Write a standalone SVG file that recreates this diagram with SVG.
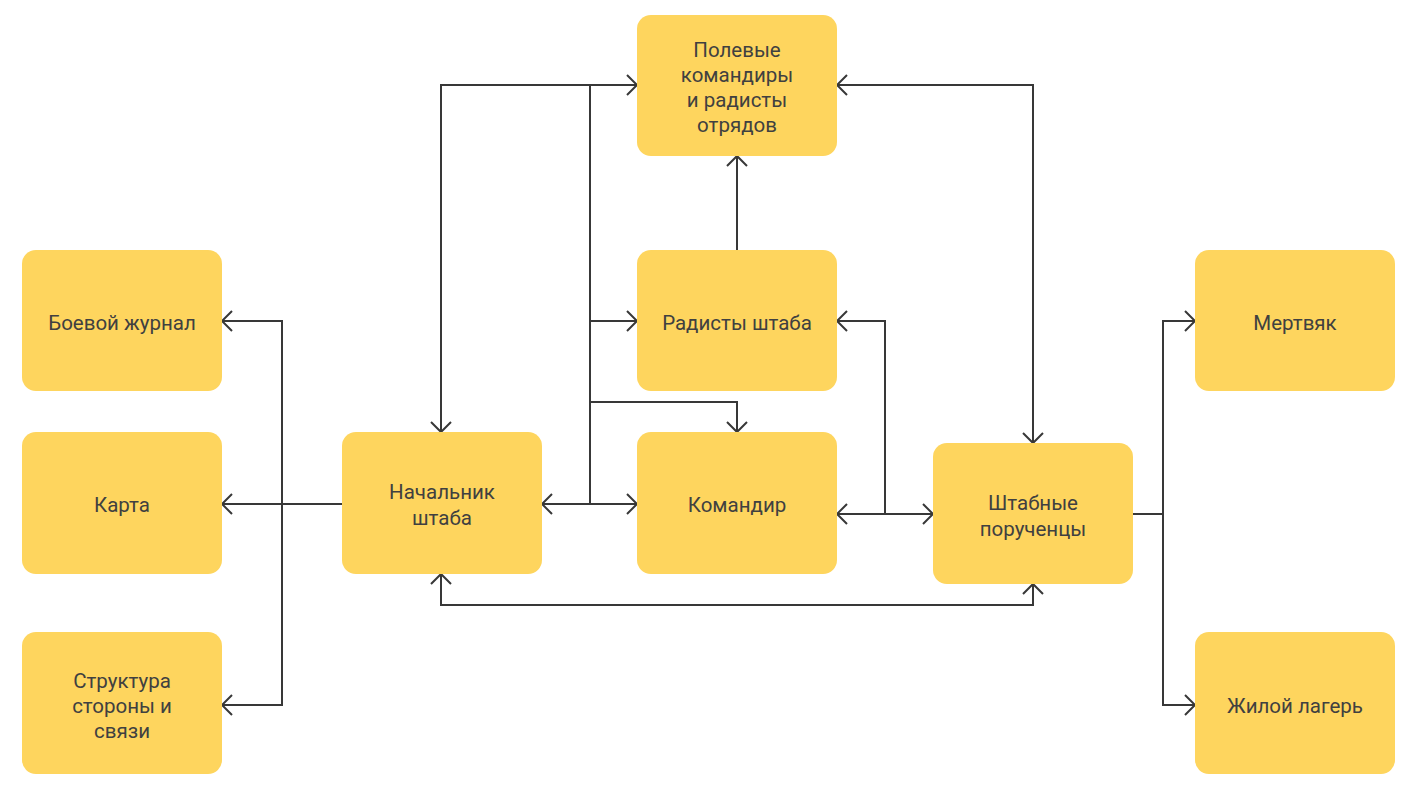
<svg xmlns="http://www.w3.org/2000/svg" width="1420" height="791" viewBox="0 0 1420 791">
<style>
.box{fill:#FED55E;}
.t{font-family:Roboto,"Liberation Sans",sans-serif;font-size:20.5px;fill:#404040;text-anchor:middle;}
.c{fill:none;stroke:#383838;stroke-width:2;}
</style>
<defs>
<marker id="ar" viewBox="-12 -12 14 24" refX="0" refY="0" markerWidth="14" markerHeight="24" markerUnits="userSpaceOnUse" orient="auto-start-reverse">
<path d="M-10,-10 L0,0 L-10,10" fill="none" stroke="#383838" stroke-width="2"/>
</marker>
</defs>
<rect width="1420" height="791" fill="#ffffff"/>
<g id="connectors">
<path class="c" d="M342,504 L222,504" marker-end="url(#ar)"/>
<path class="c" d="M222,321 L282,321 L282,705 L222,705" marker-start="url(#ar)" marker-end="url(#ar)"/>
<path class="c" d="M441,432 L441,85 L637,85" marker-start="url(#ar)" marker-end="url(#ar)"/>
<path class="c" d="M590,85 L590,504"/>
<path class="c" d="M542,504 L637,504" marker-start="url(#ar)" marker-end="url(#ar)"/>
<path class="c" d="M590,321 L637,321" marker-end="url(#ar)"/>
<path class="c" d="M590,402 L737,402 L737,432" marker-end="url(#ar)"/>
<path class="c" d="M737,250 L737,156" marker-end="url(#ar)"/>
<path class="c" d="M837,85 L1033,85 L1033,443" marker-start="url(#ar)" marker-end="url(#ar)"/>
<path class="c" d="M837,321 L885,321 L885,514 L933,514" marker-start="url(#ar)" marker-end="url(#ar)"/>
<path class="c" d="M837,514 L933,514" marker-start="url(#ar)"/>
<path class="c" d="M441,574 L441,605 L1033,605 L1033,584" marker-start="url(#ar)" marker-end="url(#ar)"/>
<path class="c" d="M1133,514 L1163,514"/>
<path class="c" d="M1195,321 L1163,321 L1163,705 L1195,705" marker-start="url(#ar)" marker-end="url(#ar)"/>
</g>
<g id="n-zhurnal"><rect class="box" x="22" y="250" width="200" height="141" rx="14"/><text class="t" x="122" y="330">Боевой журнал</text></g>
<g id="n-karta"><rect class="box" x="22" y="432" width="200" height="142" rx="14"/><text class="t" x="122" y="512">Карта</text></g>
<g id="n-struktura"><rect class="box" x="22" y="632" width="200" height="142" rx="14"/><text class="t" x="122" y="688">Структура</text><text class="t" x="122" y="713">стороны и</text><text class="t" x="122" y="738">связи</text></g>
<g id="n-nachalnik"><rect class="box" x="342" y="432" width="200" height="142" rx="14"/><text class="t" x="442" y="499">Начальник</text><text class="t" x="442" y="525">штаба</text></g>
<g id="n-polevye"><rect class="box" x="637" y="15" width="200" height="141" rx="14"/><text class="t" x="737" y="57">Полевые</text><text class="t" x="737" y="82">командиры</text><text class="t" x="737" y="107">и радисты</text><text class="t" x="737" y="132">отрядов</text></g>
<g id="n-radisty"><rect class="box" x="637" y="250" width="200" height="141" rx="14"/><text class="t" x="737" y="330">Радисты штаба</text></g>
<g id="n-komandir"><rect class="box" x="637" y="432" width="200" height="142" rx="14"/><text class="t" x="737" y="512">Командир</text></g>
<g id="n-porucheny"><rect class="box" x="933" y="443" width="200" height="141" rx="14"/><text class="t" x="1033" y="510">Штабные</text><text class="t" x="1033" y="536">порученцы</text></g>
<g id="n-mertvyak"><rect class="box" x="1195" y="250" width="200" height="141" rx="14"/><text class="t" x="1295" y="330">Мертвяк</text></g>
<g id="n-lager"><rect class="box" x="1195" y="632" width="200" height="142" rx="14"/><text class="t" x="1295" y="713">Жилой лагерь</text></g>
</svg>
